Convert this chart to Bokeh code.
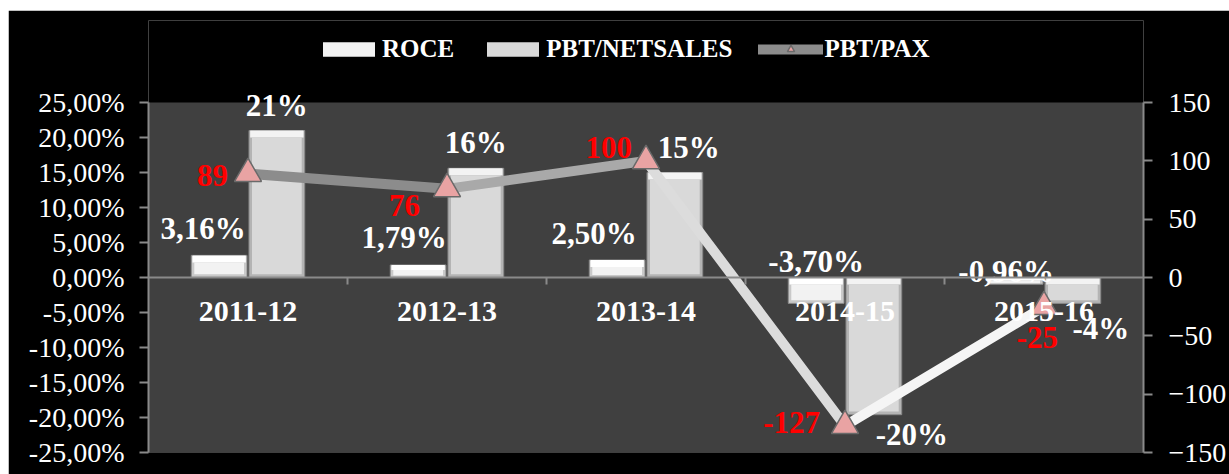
import numpy as np
from bokeh.plotting import figure
from bokeh.models import (ColumnDataSource, Range1d, LinearAxis, FixedTicker,
                          CustomJSTickFormatter, Legend, LegendItem, BoxAnnotation)
from bokeh.core.properties import value
from bokeh.embed import file_html
from bokeh.resources import INLINE

# ---------------- data ----------------
categories = ["2011-12", "2012-13", "2013-14", "2014-15", "2015-16"]
roce = [3.16, 1.79, 2.50, -3.70, -0.96]            # percent
pbt_netsales = [21.0, 15.6, 15.0, -19.6, -3.7]     # percent
pbt_pax = [89, 76, 100, -127, -25]
left_ticks = [-25, -20, -15, -10, -5, 0, 5, 10, 15, 20, 25]
right_ticks = [-150, -100, -50, 0, 50, 100, 150]

# ---------------- label styling (pixel offsets) ----------------
roce_dx = [-16, -14, -23, 0, -9]
roce_dy = [-27, -27, -27, -16, -6]
pbt_dx = [0, 0, 14, 38, 28]
pbt_dy = [-25, -26, -25, 20, 25]
pax_dx = [-20, -27, -14, -25, 14]
pax_dy = [2, 17, -13, -3, 31]
seg_colors = ["#8c8c8c", "#a9a9a9", "#dcdcdc", "#f5f5f5"]

FONT = value("Liberation Serif")

n = len(categories)
xc = np.arange(n) + 0.5
bw = 0.28
off = 0.145

# geometry: plot area 350px tall, plus a band above it (inside the frame) for the legend
AREA_H = 350
TOP_BAND = 82
L_MIN, L_MAX = left_ticks[0], left_ticks[-1]
R_MIN, R_MAX = right_ticks[0], right_ticks[-1]
l_top = L_MAX + (L_MAX - L_MIN) * TOP_BAND / AREA_H
r_top = R_MAX + (R_MAX - R_MIN) * TOP_BAND / AREA_H

p = figure(width=1221, height=464, x_range=Range1d(0, n), y_range=Range1d(L_MIN, l_top),
           output_backend="svg", toolbar_location=None,
           background_fill_color="#000000", border_fill_color="#000000",
           outline_line_color=None, margin=(10, 0, 0, 8),
           min_border_left=140, min_border_right=82, min_border_top=10, min_border_bottom=22)
p.xgrid.visible = False
p.ygrid.visible = False

# grey plot area
p.add_layout(BoxAnnotation(bottom=L_MIN, top=L_MAX, fill_color="#404040", fill_alpha=1,
                           line_color=None, level="underlay"))

# left axis
ya = p.yaxis[0]
ya.ticker = FixedTicker(ticks=left_ticks)
ya.bounds = (L_MIN, L_MAX)
ya.formatter = CustomJSTickFormatter(code="return tick.toFixed(2).replace('.', ',') + '%';")
ya.axis_line_color = "#8a8a8a"
ya.axis_line_width = 2
ya.major_tick_line_color = "#8a8a8a"
ya.major_tick_line_width = 2
ya.major_tick_out = 9
ya.major_tick_in = 0
ya.minor_tick_line_color = None
ya.major_label_standoff = 15
ya.major_label_text_color = "#ffffff"
ya.major_label_text_font = "Liberation Serif"
ya.major_label_text_font_size = "28px"

# right axis
p.extra_y_ranges = {"pax": Range1d(R_MIN, r_top)}
ra = LinearAxis(y_range_name="pax", ticker=FixedTicker(ticks=right_ticks), bounds=(R_MIN, R_MAX))
ra.axis_line_color = "#8a8a8a"
ra.axis_line_width = 2
ra.major_tick_line_color = "#8a8a8a"
ra.major_tick_line_width = 2
ra.major_tick_out = 9
ra.major_tick_in = 0
ra.minor_tick_line_color = None
ra.major_label_standoff = 16
ra.major_label_text_color = "#ffffff"
ra.major_label_text_font = "Liberation Serif"
ra.major_label_text_font_size = "28px"
p.add_layout(ra, "right")

# category axis at zero
xa = p.xaxis[0]
xa.ticker = FixedTicker(ticks=list(xc), minor_ticks=list(np.arange(1, n)))
xa.major_label_overrides = {float(x): c for x, c in zip(xc, categories)}
xa.fixed_location = 0
xa.axis_line_color = "#8a8a8a"
xa.axis_line_width = 2
xa.major_tick_line_color = None
xa.minor_tick_line_color = "#8a8a8a"
xa.minor_tick_line_width = 2
xa.minor_tick_out = 7
xa.minor_tick_in = 0
xa.major_label_standoff = 17
xa.major_label_text_color = "#ffffff"
xa.major_label_text_font = "Liberation Serif"
xa.major_label_text_font_style = "bold"
xa.major_label_text_font_size = "30px"


# bars with a simple bevel look: outer edge, light top band, body
def bevel_cols(vals):
    v = np.asarray(vals, dtype=float)
    hi = np.maximum(v, 0)
    lo = np.minimum(v, 0)
    h = hi - lo
    bt = np.minimum(1.0, h * 0.4)
    bb = np.minimum(0.45, h * 0.15)
    return hi, lo, hi - bt, lo + bb


r_hi, r_lo, r_mid, r_base = bevel_cols(roce)
p_hi, p_lo, p_mid, p_base = bevel_cols(pbt_netsales)

src = ColumnDataSource(dict(
    x_roce=xc - off, x_pbt=xc + off,
    r_hi=r_hi, r_lo=r_lo, r_mid=r_mid, r_base=r_base,
    p_hi=p_hi, p_lo=p_lo, p_mid=p_mid, p_base=p_base,
    roce_lab=[f"{v:.2f}".replace(".", ",") + "%" for v in roce],
    pbt_lab=[f"{round(v):d}%" for v in pbt_netsales],
    roce_y=[max(v, 0) for v in roce],
    pbt_y=pbt_netsales,
    roce_dx=roce_dx, roce_dy=roce_dy, pbt_dx=pbt_dx, pbt_dy=pbt_dy,
))
# ROCE
p.vbar(x="x_roce", top="r_hi", bottom="r_lo", width=bw, source=src,
       fill_color="#c9c9c9", line_color="#8a8a8a", line_width=1)
p.vbar(x="x_roce", top="r_hi", bottom="r_mid", width=bw - 0.012, source=src,
       fill_color="#ffffff", line_color=None)
r_roce = p.vbar(x="x_roce", top="r_mid", bottom="r_base", width=bw - 0.03, source=src,
                fill_color="#f2f2f2", line_color=None)
# PBT/NETSALES
p.vbar(x="x_pbt", top="p_hi", bottom="p_lo", width=bw, source=src,
       fill_color="#b4b4b4", line_color="#888888", line_width=1)
p.vbar(x="x_pbt", top="p_hi", bottom="p_mid", width=bw - 0.012, source=src,
       fill_color="#f3f3f3", line_color=None)
r_pbt = p.vbar(x="x_pbt", top="p_mid", bottom="p_base", width=bw - 0.03, source=src,
               fill_color="#d9d9d9", line_color=None)

# line (segments) + markers
seg_src = ColumnDataSource(dict(x0=xc[:-1], x1=xc[1:], y0=pbt_pax[:-1], y1=pbt_pax[1:],
                                color=seg_colors))
r_seg = p.segment(x0="x0", y0="y0", x1="x1", y1="y1", source=seg_src, line_color="color",
                  line_width=10, line_cap="round", y_range_name="pax")
pax_src = ColumnDataSource(dict(x=xc, y=pbt_pax, lab=[str(v) for v in pbt_pax],
                                dx=pax_dx, dy=pax_dy))
r_mark = p.scatter(x="x", y="y", source=pax_src, marker="triangle", size=27,
                   fill_color="#e9a3a3", line_color="#6a6a6a", line_width=1.5,
                   y_range_name="pax")

# data labels
p.text(x="x_roce", y="roce_y", text="roce_lab", source=src, x_offset="roce_dx", y_offset="roce_dy",
       text_font=FONT, text_font_style="bold", text_font_size="31px", text_color="#ffffff",
       text_align="center", text_baseline="middle")
p.text(x="x_pbt", y="pbt_y", text="pbt_lab", source=src, x_offset="pbt_dx", y_offset="pbt_dy",
       text_font=FONT, text_font_style="bold", text_font_size="31px", text_color="#ffffff",
       text_align="center", text_baseline="middle")
p.text(x="x", y="y", text="lab", source=pax_src, x_offset="dx", y_offset="dy",
       text_font=FONT, text_font_style="bold", text_font_size="31px", text_color="#ff0000",
       text_align="right", text_baseline="middle", y_range_name="pax")

# legend (inside the frame's top band)
legend = Legend(items=[LegendItem(label="ROCE", renderers=[r_roce]),
                       LegendItem(label="PBT/NETSALES", renderers=[r_pbt]),
                       LegendItem(label="PBT/PAX", renderers=[r_seg, r_mark])],
                orientation="horizontal", location=(168, 389),
                background_fill_alpha=0, border_line_color=None,
                label_text_color="#ffffff", label_text_font="Liberation Serif",
                label_text_font_style="bold", label_text_font_size="25px",
                glyph_width=65, glyph_height=18, label_standoff=1, spacing=26,
                padding=0, margin=0)
p.add_layout(legend)

open("out.html", "w").write(file_html(p, INLINE))
